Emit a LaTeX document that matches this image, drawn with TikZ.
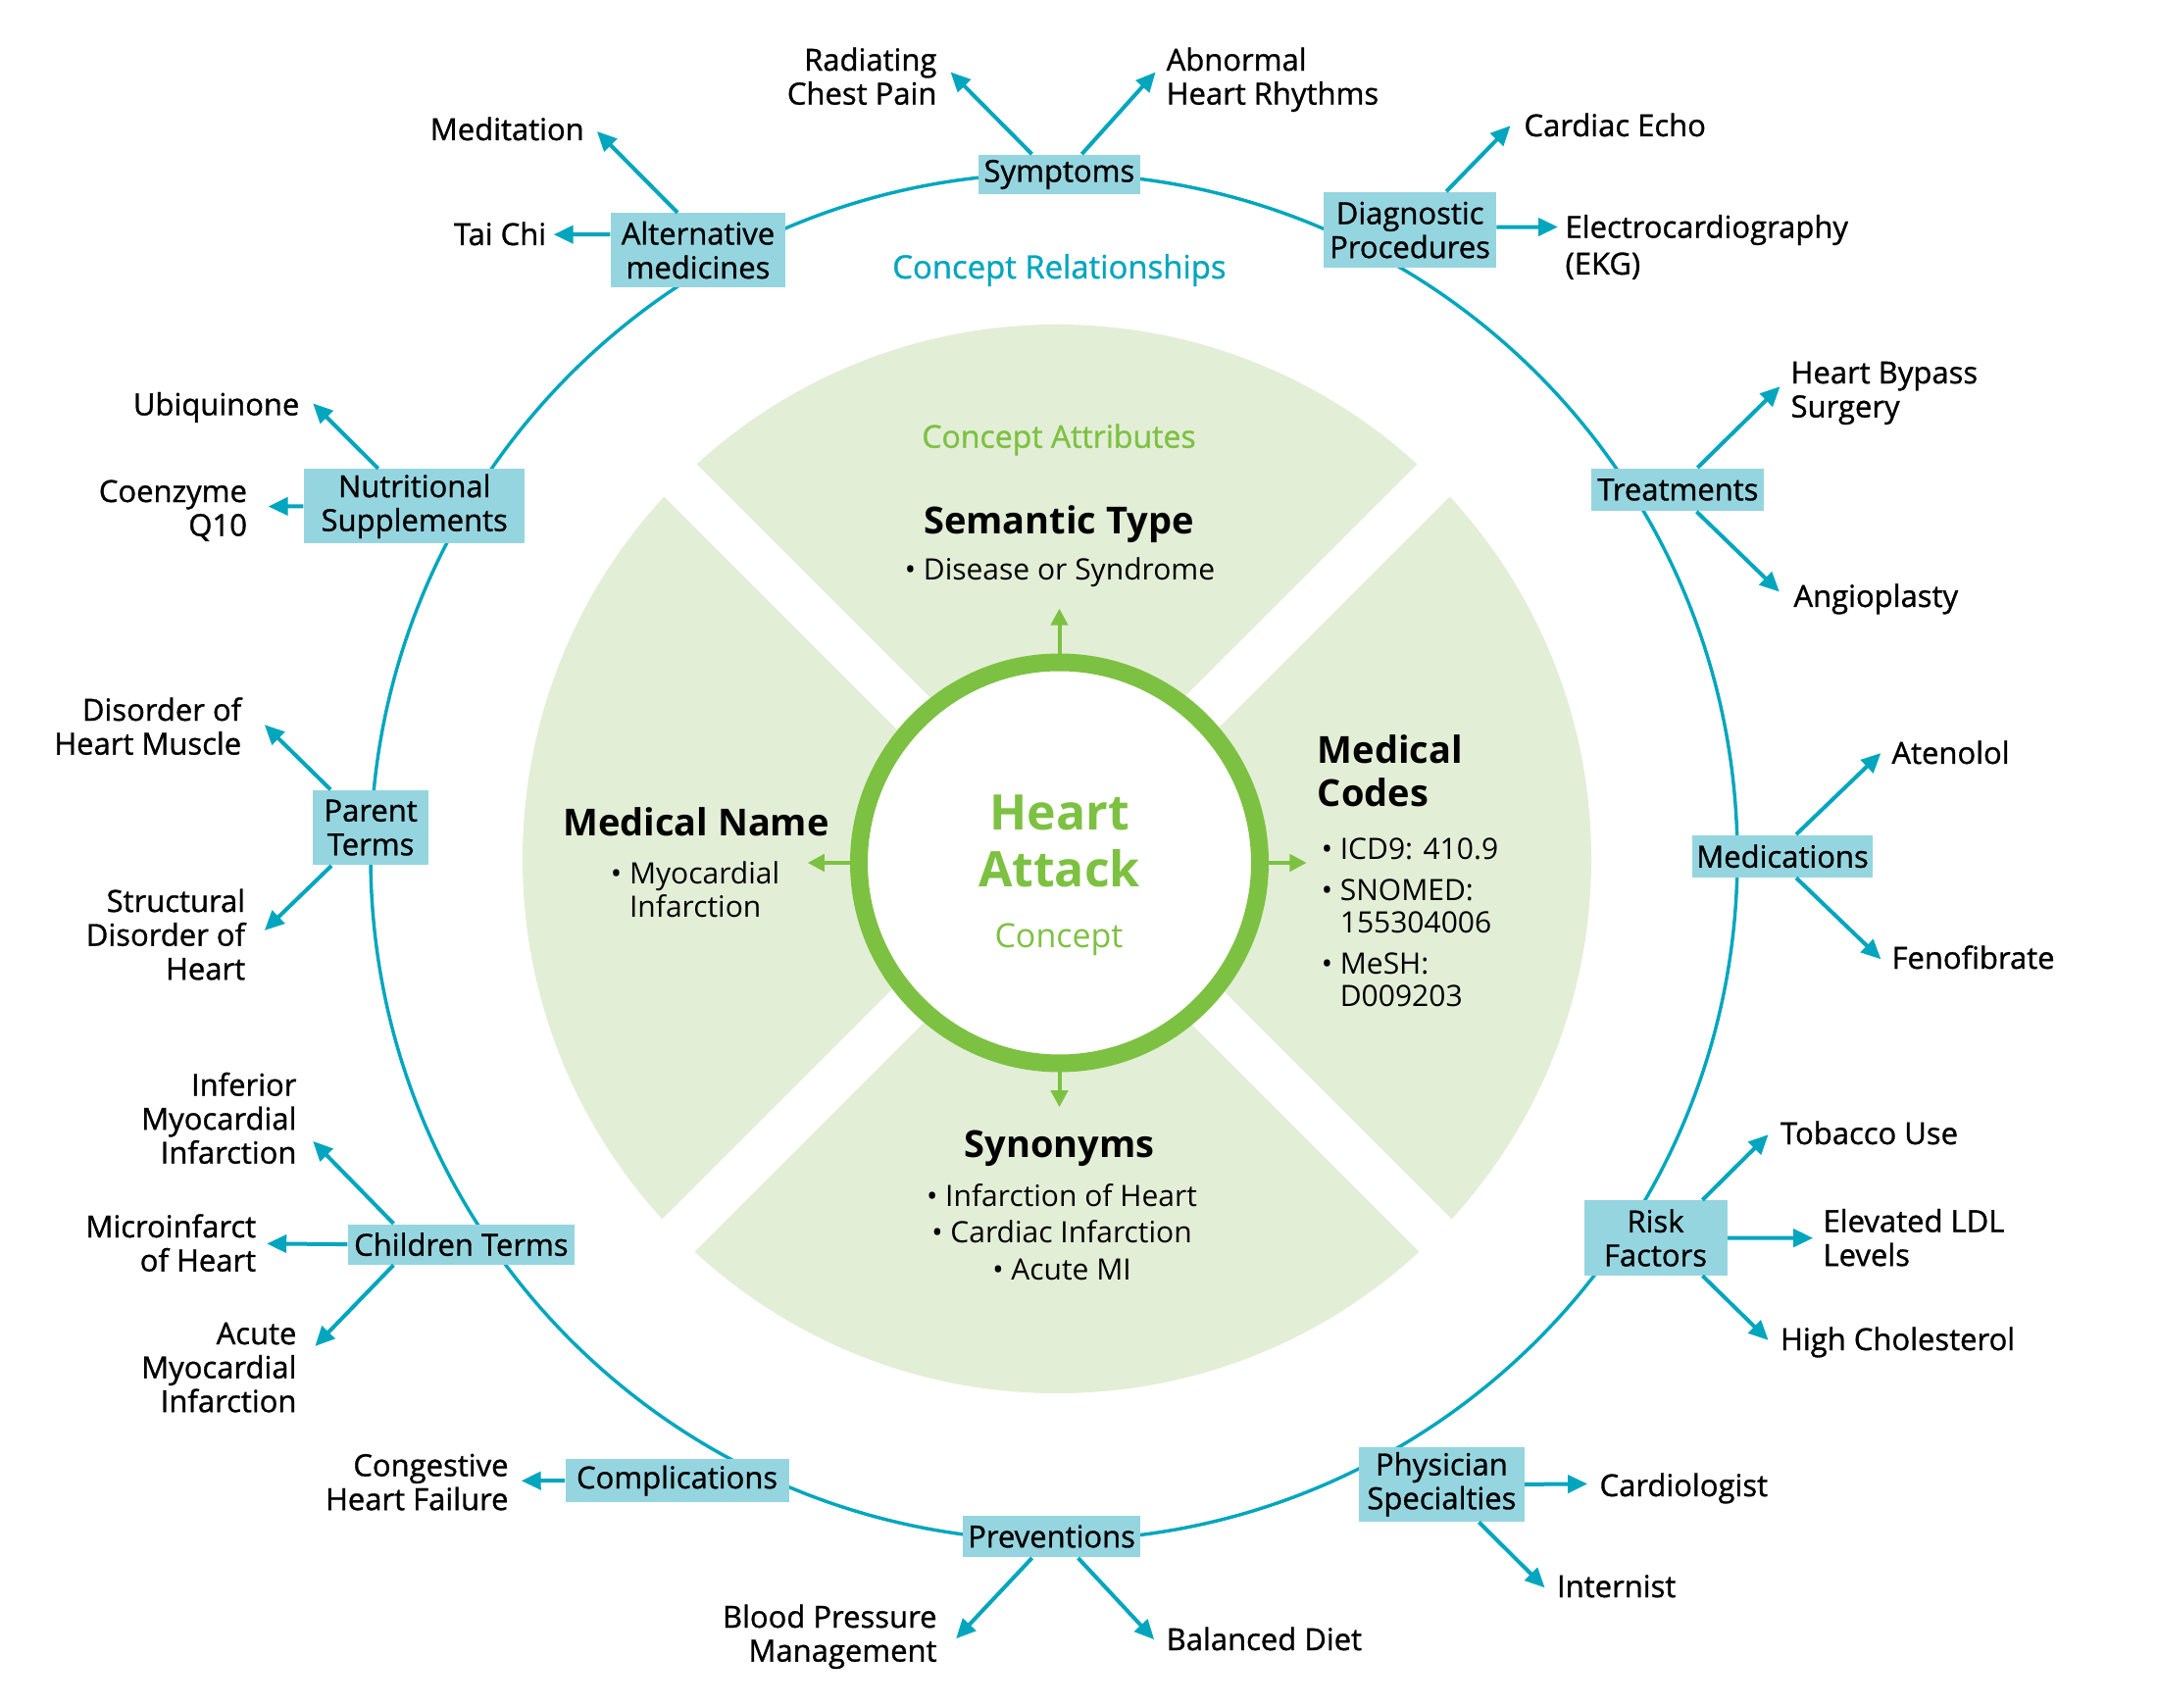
\documentclass[tikz,border=0pt]{standalone}
\usepackage{fontspec}
\setmainfont{Open Sans}
\newfontfamily\medfam[FakeBold=1]{Open Sans}
\usetikzlibrary{arrows.meta,calc}
\definecolor{cyanline}{RGB}{0,166,190}
\definecolor{boxfill}{RGB}{149,213,224}
\definecolor{ringgreen}{RGB}{125,193,66}
\definecolor{palegreen}{RGB}{227,238,214}
\newcommand\lblfont{\medfam\fontsize{10.85pt}{12.1pt}\selectfont}
\newcommand\headfont{\fontsize{13.3pt}{15.75pt}\selectfont\bfseries}
\newcommand\bulfont{\fontsize{10.5pt}{13.2pt}\selectfont}
\begin{document}
\begin{tikzpicture}[x=0.35pt,y=-0.35pt,
  box/.style={fill=boxfill, inner sep=0pt, align=center, font=\lblfont},
  lbl/.style={inner sep=0pt, font=\lblfont},
  arr/.style={draw=cyanline, line width=1.4pt, -{Triangle[length=7pt,width=6.3pt]}},
  garr/.style={draw=ringgreen, line width=1.4pt, -{Triangle[length=6pt,width=6pt]}},
  ctext/.style={inner sep=0pt}]
\useasboundingbox (0,0) rectangle (2200,1742);
\fill[white] (0,0) rectangle (2200,1742);

% pale green attribute sectors
\fill[palegreen] (1078,876) circle[radius=545];
\draw[white, line width=16.45pt] (658,454) -- (1498,1294);
\draw[white, line width=16.45pt] (1498,454) -- (658,1294);

% outer relationship circle
\draw[cyanline, line width=1.2pt] (1075,874) circle[radius=697];

% central concept ring
\node[circle, draw=ringgreen, line width=6.3pt, fill=white, minimum size=143.15pt, inner sep=0pt] (ring) at (1080.5,880) {};
\coordinate (gup) at (1080.5,620.6);
\coordinate (gdn) at (1080.5,1129.2);
\coordinate (glf) at (823.7,880);
\coordinate (grt) at (1332.6,880);
\draw[garr] (ring.north) -- (gup);
\draw[garr] (ring.south) -- (gdn);
\draw[garr] (ring.west) -- (glf);
\draw[garr] (ring.east) -- (grt);

% centre texts (anchor base = baseline of the last line)
\node[ctext, anchor=base, align=center, text=ringgreen, font=\fontsize{17.5pt}{20.3pt}\selectfont\bfseries] (ha) at (1080.5,904) {Heart\\Attack};
\node[ctext, anchor=base, text=ringgreen, font=\fontsize{11.9pt}{14pt}\selectfont] (conc) at (1080,966.7) {Concept};
\node[ctext, anchor=base, text=cyanline, font=\medfam\fontsize{11.5pt}{13pt}\selectfont] (crel) at (1080.4,284) {Concept Relationships};
\node[ctext, anchor=base, text=ringgreen, font=\medfam\fontsize{11.2pt}{13pt}\selectfont] (catt) at (1080,456.7) {Concept Attributes};
\node[ctext, anchor=base, font=\headfont] (semh) at (1080,545) {Semantic Type};
\node[ctext, anchor=base, font=\bulfont] (semb) at (1081,592) {• Disease or Syndrome};
\node[ctext, anchor=base, font=\headfont] (mnh) at (710,852.5) {Medical Name};
\node[ctext, anchor=base west, align=left, font=\fontsize{10.5pt}{12pt}\selectfont] (mnb) at (622.4,935.3) {• Myocardial\\\phantom{• }Infarction};
\node[ctext, anchor=base west, align=left, font=\headfont] (mch) at (1343.4,823) {Medical\\Codes};
\node[ctext, anchor=base west, align=left, font=\fontsize{10.5pt}{11.55pt}\selectfont] (mcb) at (1347.2,1026.5) {• ICD9: 410.9\\[3.15pt]• SNOMED:\\\phantom{• }155304006\\[3.15pt]• MeSH:\\\phantom{• }D009203};
\node[ctext, anchor=base, font=\headfont] (syh) at (1080.5,1180.7) {Synonyms};
\node[ctext, anchor=base, align=center, font=\bulfont] (syb) at (1083,1305.6) {• Infarction of Heart\\• Cardiac Infarction\\• Acute MI};

% relationship boxes
\node[box, minimum width=57.9pt, minimum height=14.2pt] (sym) at (1080.4,178) {Symptoms};
\node[box, minimum width=62.3pt, minimum height=26.4pt] (alt) at (712,255.1) {Alternative\\medicines};
\node[box, minimum width=61.4pt, minimum height=27.1pt] (diag) at (1438.1,234.6) {Diagnostic\\Procedures};
\node[box, minimum width=78.9pt, minimum height=26.5pt] (nut) at (422.7,516.3) {Nutritional\\Supplements};
\node[box, minimum width=61.6pt, minimum height=15.3pt] (treat) at (1711.4,499.4) {Treatments};
\node[box, minimum width=41.5pt, minimum height=26.8pt] (par) at (378.1,844.1) {Parent\\Terms};
\node[box, minimum width=64.3pt, minimum height=15.1pt] (meds) at (1818,873.2) {Medications};
\node[box, minimum width=80.8pt, minimum height=14.4pt] (child) at (470.4,1269.1) {Children Terms};
\node[box, minimum width=51.1pt, minimum height=26.7pt] (risk) at (1688.5,1262.5) {Risk\\Factors};
\node[box, minimum width=79.8pt, minimum height=15.3pt] (comp) at (690.6,1510) {Complications};
\node[box, minimum width=58.9pt, minimum height=26.6pt] (phys) at (1470.4,1513.9) {Physician\\Specialties};
\node[box, minimum width=63.4pt, minimum height=15pt] (prev) at (1072.6,1567) {Preventions};

% arrow end points
\coordinate (trad) at (969.5,73.5);
\coordinate (tabn) at (1178.6,73.5);
\coordinate (tmedit) at (608.9,134);
\coordinate (ttai) at (564.7,239.2);
\coordinate (techo) at (1540.5,128.2);
\coordinate (tekg) at (1589,231.5);
\coordinate (tubi) at (319.2,411.4);
\coordinate (tcoq) at (273.6,516.6);
\coordinate (tbyp) at (1815.5,394.2);
\coordinate (tang) at (1814.9,603.6);
\coordinate (tdhm) at (269.8,739.2);
\coordinate (tsdh) at (269.8,949);
\coordinate (tate) at (1918.4,768);
\coordinate (tfen) at (1918.4,978.3);
\coordinate (timi) at (319.2,1163.9);
\coordinate (tmih) at (272.2,1268.4);
\coordinate (tami) at (321.3,1373);
\coordinate (ttob) at (1803.6,1157.2);
\coordinate (tldl) at (1849.2,1262.7);
\coordinate (tcho) at (1803.6,1366.9);
\coordinate (tchf) at (531.7,1510.3);
\coordinate (tcar) at (1619.1,1513.4);
\coordinate (tint) at (1575.6,1619.3);
\coordinate (tbpm) at (975.1,1671.3);
\coordinate (tdie) at (1177.2,1672.2);

% arrows
\draw[arr] ($(sym.north)+(-28,0)$) -- (trad);
\draw[arr] ($(sym.north)+(23,0)$) -- (tabn);
\draw[arr] ($(alt.north)+(-21,0)$) -- (tmedit);
\draw[arr] ($(alt.west)+(0,-16)$) -- (ttai);
\draw[arr] ($(diag.north)+(37,0)$) -- (techo);
\draw[arr] ($(diag.east)+(0,-3)$) -- (tekg);
\draw[arr] ($(nut.north)+(-37,0)$) -- (tubi);
\draw[arr] (nut.west) -- (tcoq);
\draw[arr] ($(treat.north)+(20,0)$) -- (tbyp);
\draw[arr] ($(treat.south)+(19,0)$) -- (tang);
\draw[arr] ($(par.north)+(-41,0)$) -- (tdhm);
\draw[arr] ($(par.south)+(-40,0)$) -- (tsdh);
\draw[arr] ($(meds.north)+(14,0)$) -- (tate);
\draw[arr] ($(meds.south)+(14,0)$) -- (tfen);
\draw[arr] ($(child.north)+(-69,0)$) -- (timi);
\draw[arr] (child.west) -- (tmih);
\draw[arr] ($(child.south)+(-69,0)$) -- (tami);
\draw[arr] ($(risk.north)+(48,0)$) -- (ttob);
\draw[arr] (risk.east) -- (tldl);
\draw[arr] ($(risk.south)+(48,0)$) -- (tcho);
\draw[arr] (comp.west) -- (tchf);
\draw[arr] (phys.east) -- (tcar);
\draw[arr] ($(phys.south)+(38,0)$) -- (tint);
\draw[arr] ($(prev.south)+(-20,0)$) -- (tbpm);
\draw[arr] ($(prev.south)+(27,0)$) -- (tdie);

% outer labels (anchor base = baseline of the last line)
\node[lbl, anchor=base east, align=right] (lrad) at (956,106.6) {Radiating\\Chest Pain};
\node[lbl, anchor=base west, align=left] (labn) at (1189.1,106.6) {Abnormal\\Heart Rhythms};
\node[lbl, anchor=base east] (lmed) at (596.3,143) {Meditation};
\node[lbl, anchor=base east] (ltai) at (557.7,250) {Tai Chi};
\node[lbl, anchor=base west] (lecho) at (1553.9,139) {Cardiac Echo};
\node[lbl, anchor=base west, align=left] (lekg) at (1596,280) {Electrocardiography\\[1pt](EKG)};
\node[lbl, anchor=base east] (lubi) at (305.9,423.5) {Ubiquinone};
\node[lbl, anchor=base east, align=right] (lcoq) at (252.5,546.6) {Coenzyme\\Q10};
\node[lbl, anchor=base west, align=left] (lbyp) at (1826,425.6) {Heart Bypass\\Surgery};
\node[lbl, anchor=base west] (lang) at (1828.9,619) {Angioplasty};
\node[lbl, anchor=base east, align=right] (ldhm) at (246.8,769.6) {Disorder of\\Heart Muscle};
\node[lbl, anchor=base east, align=right] (lsdh) at (250.7,999.2) {Structural\\Disorder of\\Heart};
\node[lbl, anchor=base west] (late) at (1928.9,779) {Atenolol};
\node[lbl, anchor=base west] (lfen) at (1928.9,988) {Fenofibrate};
\node[lbl, anchor=base east, align=right] (limi) at (303,1186.7) {Inferior\\Myocardial\\Infarction};
\node[lbl, anchor=base east, align=right] (lmih) at (261.7,1296.6) {Microinfarct\\of Heart};
\node[lbl, anchor=base east, align=right] (lami) at (303,1440.2) {Acute\\Myocardial\\Infarction};
\node[lbl, anchor=base west] (ltob) at (1815.5,1167) {Tobacco Use};
\node[lbl, anchor=base west, align=left] (lldl) at (1859,1291.1) {Elevated LDL\\Levels};
\node[lbl, anchor=base west] (lcho) at (1815.5,1377) {High Cholesterol};
\node[lbl, anchor=base east, align=right] (lchf) at (519.1,1540.1) {Congestive\\Heart Failure};
\node[lbl, anchor=base west] (lcar) at (1631,1526) {Cardiologist};
\node[lbl, anchor=base west] (lint) at (1587.5,1629) {Internist};
\node[lbl, anchor=base east, align=right] (lbpm) at (956.1,1694.6) {Blood Pressure\\Management};
\node[lbl, anchor=base west] (ldie) at (1189.1,1683) {Balanced Diet};
\end{tikzpicture}
\end{document}
